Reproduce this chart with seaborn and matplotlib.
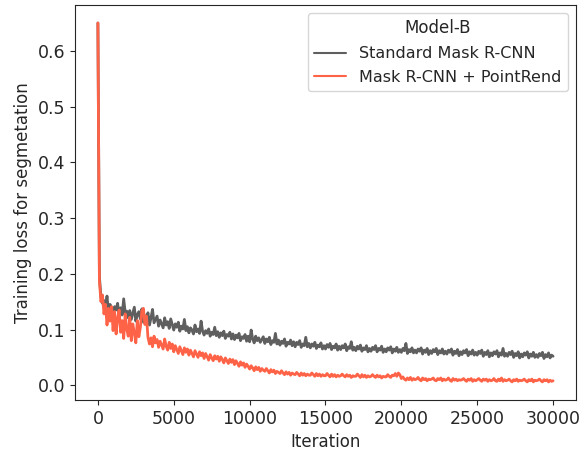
import numpy as np
import pandas as pd
import matplotlib
matplotlib.use("Agg")
import matplotlib.pyplot as plt
import seaborn as sns

# iterations, logged every 100 steps
iterations = np.arange(0, 30001, 100)

# Standard Mask R-CNN (10 values per 1000 iterations)
loss_standard = [
    0.650, 0.195, 0.158, 0.147, 0.152, 0.138, 0.160, 0.131, 0.145, 0.139,
    0.128, 0.141, 0.135, 0.147, 0.122, 0.139, 0.126, 0.155, 0.130, 0.133,
    0.121, 0.134, 0.118, 0.129, 0.140, 0.115, 0.127, 0.132, 0.119, 0.137,
    0.113, 0.125, 0.119, 0.130, 0.108, 0.121, 0.136, 0.112, 0.118, 0.124,
    0.106, 0.117, 0.110, 0.103, 0.121, 0.108, 0.114, 0.102, 0.119, 0.109,
    0.099, 0.110, 0.104, 0.113, 0.097, 0.106, 0.101, 0.118, 0.098, 0.105,
    0.094, 0.103, 0.099, 0.092, 0.108, 0.096, 0.101, 0.093, 0.115, 0.097,
    0.090, 0.098, 0.093, 0.101, 0.088, 0.095, 0.091, 0.104, 0.089, 0.096,
    0.086, 0.094, 0.089, 0.097, 0.084, 0.091, 0.088, 0.095, 0.083, 0.092,
    0.082, 0.090, 0.085, 0.093, 0.080, 0.087, 0.084, 0.091, 0.079, 0.088,
    0.078, 0.099, 0.083, 0.076, 0.088, 0.080, 0.085, 0.077, 0.082, 0.087,
    0.075, 0.083, 0.078, 0.086, 0.073, 0.080, 0.077, 0.093, 0.074, 0.081,
    0.072, 0.079, 0.075, 0.083, 0.070, 0.077, 0.074, 0.081, 0.071, 0.078,
    0.069, 0.077, 0.073, 0.080, 0.068, 0.074, 0.071, 0.086, 0.069, 0.075,
    0.067, 0.074, 0.070, 0.077, 0.066, 0.072, 0.069, 0.076, 0.065, 0.071,
    0.065, 0.073, 0.068, 0.075, 0.064, 0.070, 0.067, 0.074, 0.063, 0.070,
    0.064, 0.071, 0.067, 0.074, 0.062, 0.069, 0.066, 0.078, 0.063, 0.068,
    0.062, 0.070, 0.065, 0.072, 0.061, 0.067, 0.064, 0.071, 0.060, 0.066,
    0.061, 0.068, 0.064, 0.071, 0.060, 0.066, 0.063, 0.070, 0.059, 0.065,
    0.060, 0.067, 0.063, 0.069, 0.058, 0.065, 0.061, 0.068, 0.059, 0.064,
    0.059, 0.066, 0.062, 0.075, 0.057, 0.064, 0.060, 0.067, 0.058, 0.063,
    0.058, 0.065, 0.061, 0.067, 0.056, 0.063, 0.059, 0.066, 0.055, 0.062,
    0.057, 0.064, 0.060, 0.066, 0.055, 0.062, 0.058, 0.065, 0.056, 0.061,
    0.056, 0.063, 0.059, 0.065, 0.054, 0.061, 0.057, 0.064, 0.053, 0.060,
    0.055, 0.062, 0.058, 0.064, 0.053, 0.060, 0.056, 0.063, 0.054, 0.059,
    0.054, 0.061, 0.057, 0.063, 0.052, 0.059, 0.055, 0.062, 0.051, 0.058,
    0.053, 0.060, 0.056, 0.062, 0.051, 0.058, 0.054, 0.066, 0.052, 0.057,
    0.052, 0.059, 0.055, 0.061, 0.050, 0.057, 0.053, 0.060, 0.049, 0.056,
    0.051, 0.058, 0.054, 0.060, 0.049, 0.056, 0.052, 0.059, 0.050, 0.055,
    0.050, 0.057, 0.053, 0.059, 0.048, 0.055, 0.051, 0.058, 0.049, 0.054,
    0.052,
]

# Mask R-CNN + PointRend
loss_pointrend = [
    0.650, 0.188, 0.150, 0.162, 0.128, 0.145, 0.108, 0.138, 0.115, 0.141,
    0.098, 0.132, 0.092, 0.121, 0.135, 0.095, 0.116, 0.084, 0.128, 0.101,
    0.088, 0.122, 0.080, 0.110, 0.094, 0.076, 0.116, 0.087, 0.104, 0.134,
    0.138, 0.109, 0.124, 0.086, 0.074, 0.085, 0.069, 0.088, 0.076, 0.082,
    0.068, 0.079, 0.072, 0.065, 0.083, 0.070, 0.063, 0.077, 0.066, 0.074,
    0.060, 0.071, 0.064, 0.057, 0.069, 0.062, 0.055, 0.067, 0.059, 0.065,
    0.054, 0.063, 0.057, 0.051, 0.062, 0.056, 0.050, 0.060, 0.053, 0.058,
    0.048, 0.057, 0.051, 0.045, 0.055, 0.049, 0.044, 0.053, 0.047, 0.052,
    0.043, 0.051, 0.046, 0.040, 0.049, 0.044, 0.039, 0.047, 0.041, 0.046,
    0.037, 0.044, 0.039, 0.034, 0.042, 0.036, 0.040, 0.032, 0.038, 0.034,
    0.029, 0.035, 0.031, 0.026, 0.033, 0.028, 0.032, 0.025, 0.030, 0.027,
    0.025, 0.030, 0.026, 0.022, 0.028, 0.024, 0.027, 0.021, 0.025, 0.023,
    0.021, 0.026, 0.022, 0.019, 0.024, 0.020, 0.023, 0.018, 0.022, 0.020,
    0.019, 0.023, 0.020, 0.017, 0.022, 0.018, 0.021, 0.017, 0.020, 0.018,
    0.018, 0.022, 0.019, 0.016, 0.021, 0.017, 0.020, 0.016, 0.019, 0.017,
    0.017, 0.021, 0.018, 0.015, 0.020, 0.016, 0.019, 0.015, 0.018, 0.016,
    0.017, 0.020, 0.017, 0.015, 0.019, 0.016, 0.018, 0.014, 0.017, 0.016,
    0.016, 0.020, 0.017, 0.014, 0.019, 0.015, 0.018, 0.014, 0.017, 0.015,
    0.016, 0.019, 0.016, 0.014, 0.018, 0.015, 0.017, 0.013, 0.016, 0.015,
    0.015, 0.019, 0.016, 0.014, 0.018, 0.017, 0.021, 0.016, 0.022, 0.019,
    0.012, 0.015, 0.011, 0.009, 0.013, 0.010, 0.014, 0.009, 0.012, 0.010,
    0.011, 0.014, 0.010, 0.008, 0.013, 0.010, 0.012, 0.008, 0.011, 0.010,
    0.011, 0.013, 0.009, 0.008, 0.012, 0.010, 0.013, 0.008, 0.011, 0.009,
    0.010, 0.013, 0.009, 0.007, 0.012, 0.009, 0.011, 0.008, 0.010, 0.009,
    0.010, 0.012, 0.009, 0.007, 0.011, 0.009, 0.012, 0.007, 0.010, 0.008,
    0.010, 0.012, 0.009, 0.007, 0.011, 0.009, 0.011, 0.007, 0.010, 0.008,
    0.009, 0.012, 0.008, 0.007, 0.011, 0.008, 0.013, 0.007, 0.010, 0.008,
    0.009, 0.011, 0.008, 0.006, 0.010, 0.008, 0.011, 0.007, 0.009, 0.008,
    0.009, 0.011, 0.008, 0.006, 0.010, 0.008, 0.011, 0.006, 0.009, 0.008,
    0.009, 0.011, 0.008, 0.006, 0.010, 0.008, 0.010, 0.006, 0.009, 0.007,
    0.008,
]

model_names = ["Standard Mask R-CNN", "Mask R-CNN + PointRend"]
model_colors = ["#5f5f5f", "#ff6347"]

df = pd.concat([
    pd.DataFrame({"Iteration": iterations, "loss": loss_standard, "Model-B": model_names[0]}),
    pd.DataFrame({"Iteration": iterations, "loss": loss_pointrend, "Model-B": model_names[1]}),
])

sns.set_style("ticks")
plt.rcParams["font.family"] = ["DejaVu Sans"]

fig = plt.figure(figsize=(5.87, 4.58), dpi=100)
ax = fig.add_axes([0.128, 0.127, 0.853, 0.862])
sns.lineplot(data=df, x="Iteration", y="loss", hue="Model-B",
             hue_order=model_names, palette=model_colors,
             estimator=None, linewidth=2.0, ax=ax)

ax.set_xlabel("Iteration", fontsize=12)
ax.set_ylabel("Training loss for segmetation", fontsize=12)
ax.tick_params(labelsize=12.5)
leg = ax.legend(title="Model-B", loc="upper right", fontsize=11.5,
                title_fontsize=12, labelspacing=0.55)
for line in leg.get_lines():
    line.set_linewidth(1.5)

fig.savefig("out.png", dpi=100)
